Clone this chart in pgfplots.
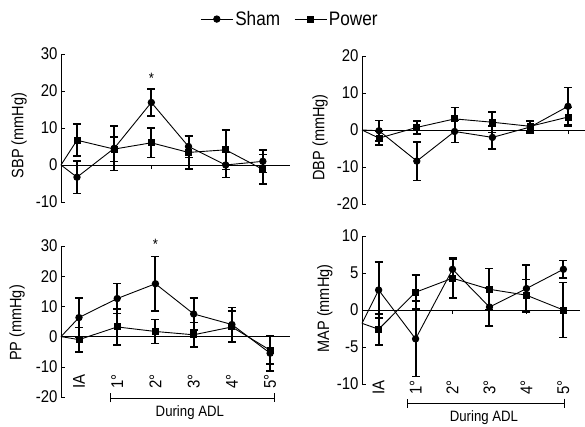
\documentclass[border=0pt]{standalone}
\usepackage{fontspec}
\setmainfont{Liberation Sans}[FakeStretch=0.88]
\usepackage{pgfplots}
\pgfplotsset{compat=1.18}
\usepackage{pgfplotstable}
\usetikzlibrary{arrows.meta}

% x: 1 = IA, 2..6 = 1st..5th ADL; s/p = sham/power mean, se/pe = error
\pgfplotstableread{
x  s     se   p     pe
1  -3.3  4.4  6.7   4.3
2  4.5   6.0  4.3   3.3
3  16.9  3.7  6.0   4.0
4  5.0   3.0  3.4   4.5
5  0.0   3.4  4.1   5.3
6  1.0   3.0  -1.2  4.0
}\sbp
\pgfplotstableread{
x  s     se   p     pe
1  -0.2  2.8  -2.2  1.8
2  -8.4  5.2  0.7   1.8
3  -0.4  3.0  3.0   3.1
4  -2.0  3.1  2.1   2.8
5  0.8   1.6  1.0   1.5
6  6.4   5.1  3.5   2.6
}\dbp
\pgfplotstableread{
x  s     se   p     pe
1  6.3   6.5  -1.0  4.0
2  12.6  5.0  3.2   6.0
3  17.5  9.0  1.7   4.0
4  7.5   5.3  0.6   4.1
5  4.0   5.7  3.2   5.2
6  -5.5  5.8  -4.5  4.5
}\pp
\pgfplotstableread{
x  s     se   p     pe
1  2.7   3.8  -2.6  2.1
2  -3.9  5.1  2.4   2.3
3  5.5   1.4  4.3   2.7
4  0.4   2.6  2.8   2.8
5  2.9   3.2  2.0   2.1
6  5.5   1.2  0.0   3.7
}\map

\tikzset{bracket/.style={line width=0.6pt, {Bar[width=9pt]}-{Bar[width=9pt]}}}

\pgfplotsset{
  panel/.style={
    scale only axis, enlargelimits=false, clip=false,
    axis y line*=left, axis x line*=middle,
    xtick={1,...,6}, xticklabels={,,,,,},
    ytick align=inside, xtick align=outside,
    major tick length=4pt,
    tick style={black, line width=0.6pt},
    axis line style={black, line width=0.6pt},
    tick label style={font=\fontsize{17}{17}\selectfont},
    /pgf/number format/assume math mode=true,
    ylabel style={font=\fontsize{16.5}{17}\selectfont, anchor=center},
  },
  bottomlabels/.style={
    xticklabels={IA,1°,2°,3°,4°,5°},
    xticklabel style={rotate=90, anchor=east},
    xticklabel shift=#1,
  },
  sham/.style={black, line width=0.9pt, mark=*, mark size=3.2pt,
    mark options={solid, fill=black}},
  power/.style={black, line width=0.9pt, mark=square*, mark size=3pt,
    mark options={solid, fill=black}},
  lead/.style={black, line width=0.9pt, forget plot},
  bars/.style={error bars/.cd, y dir=both, y explicit,
    error bar style={line width=2pt},
    error mark options={rotate=90, line width=1.6pt, mark size=4pt}},
}

\begin{document}
\begin{tikzpicture}
\path[use as bounding box] (0pt,0pt) rectangle (585pt,426pt);

% SBP
\begin{axis}[panel, at={(61pt,224pt)}, anchor=south west, width=229pt, height=148pt,
  xmin=0.57, xmax=6.73, ymin=-10, ymax=30, ytick={-10,0,10,20,30},
  ylabel={SBP (mmHg)}, ylabel style={at={(axis description cs:-0.183,0.45)}},
  legend style={at={(axis description cs:1.0,1.236)}, anchor=center, draw=none,
    fill=none, legend columns=2, font=\fontsize{19.5}{19.5}\selectfont,
    /tikz/every even column/.append style={column sep=12pt}},
  legend image code/.code={\draw[mark repeat=2, mark phase=2, #1]
    plot coordinates {(0pt,0pt) (16pt,0pt) (32pt,0pt)};},
]
\addplot[lead] coordinates {(0.57,0) (1,-3.3)};
\addplot[lead] coordinates {(0.57,0) (1,6.7)};
\addplot[sham, bars] table[x=x, y=s, y error=se] {\sbp};
\addplot[power, bars] table[x=x, y=p, y error=pe] {\sbp};
\legend{Sham, Power}
\node[font=\fontsize{15}{15}\selectfont] at (axis cs:3,23.5) {*};
\end{axis}

% DBP
\begin{axis}[panel, at={(362pt,222pt)}, anchor=south west, width=223pt, height=148pt,
  xmin=0.55, xmax=6.45, ymin=-20, ymax=20, ytick={-20,-10,0,10,20},
  ylabel={DBP (mmHg)}, ylabel style={at={(axis description cs:-0.188,0.45)}},
]
\addplot[lead] coordinates {(0.55,0) (1,-0.2)};
\addplot[lead] coordinates {(0.55,0) (1,-2.2)};
\addplot[sham, bars] table[x=x, y=s, y error=se] {\dbp};
\addplot[power, bars] table[x=x, y=p, y error=pe] {\dbp};
\end{axis}

% PP
\begin{axis}[panel, bottomlabels=30pt, at={(61pt,29pt)}, anchor=south west, width=229pt, height=151pt,
  xmin=0.53, xmax=6.52, ymin=-20, ymax=30, ytick={-20,-10,0,10,20,30},
  ylabel={PP (mmHg)}, ylabel style={at={(axis description cs:-0.192,0.49)}},
]
\addplot[lead] coordinates {(0.53,0) (1,6.3)};
\addplot[lead] coordinates {(0.53,0) (1,-1.0)};
\addplot[sham, bars] table[x=x, y=s, y error=se] {\pp};
\addplot[power, bars] table[x=x, y=p, y error=pe] {\pp};
\node[font=\fontsize{15}{15}\selectfont] at (axis cs:3,30.5) {*};
\draw[bracket] (axis cs:1.8,-20.3) -- (axis cs:6.13,-20.3);
\node[font=\fontsize{15}{15}\selectfont] at (axis cs:3.9,-25.3) {During ADL};
\end{axis}

% MAP
\begin{axis}[panel, bottomlabels=63pt, at={(362pt,42pt)}, anchor=south west, width=218pt, height=148pt,
  xmin=0.55, xmax=6.45, ymin=-10, ymax=10, ytick={-10,-5,0,5,10},
  ylabel={MAP (mmHg)}, ylabel style={at={(axis description cs:-0.17,0.51)}},
]
\addplot[lead] coordinates {(0.55,-1.8) (1,2.7)};
\addplot[lead] coordinates {(0.55,-1.8) (1,-2.6)};
\addplot[sham, bars] table[x=x, y=s, y error=se] {\map};
\addplot[power, bars] table[x=x, y=p, y error=pe] {\map};
\draw[bracket] (axis cs:1.77,-12.57) -- (axis cs:6.03,-12.57);
\node[font=\fontsize{15}{15}\selectfont] at (axis cs:3.85,-14.6) {During ADL};
\end{axis}
\end{tikzpicture}
\end{document}
